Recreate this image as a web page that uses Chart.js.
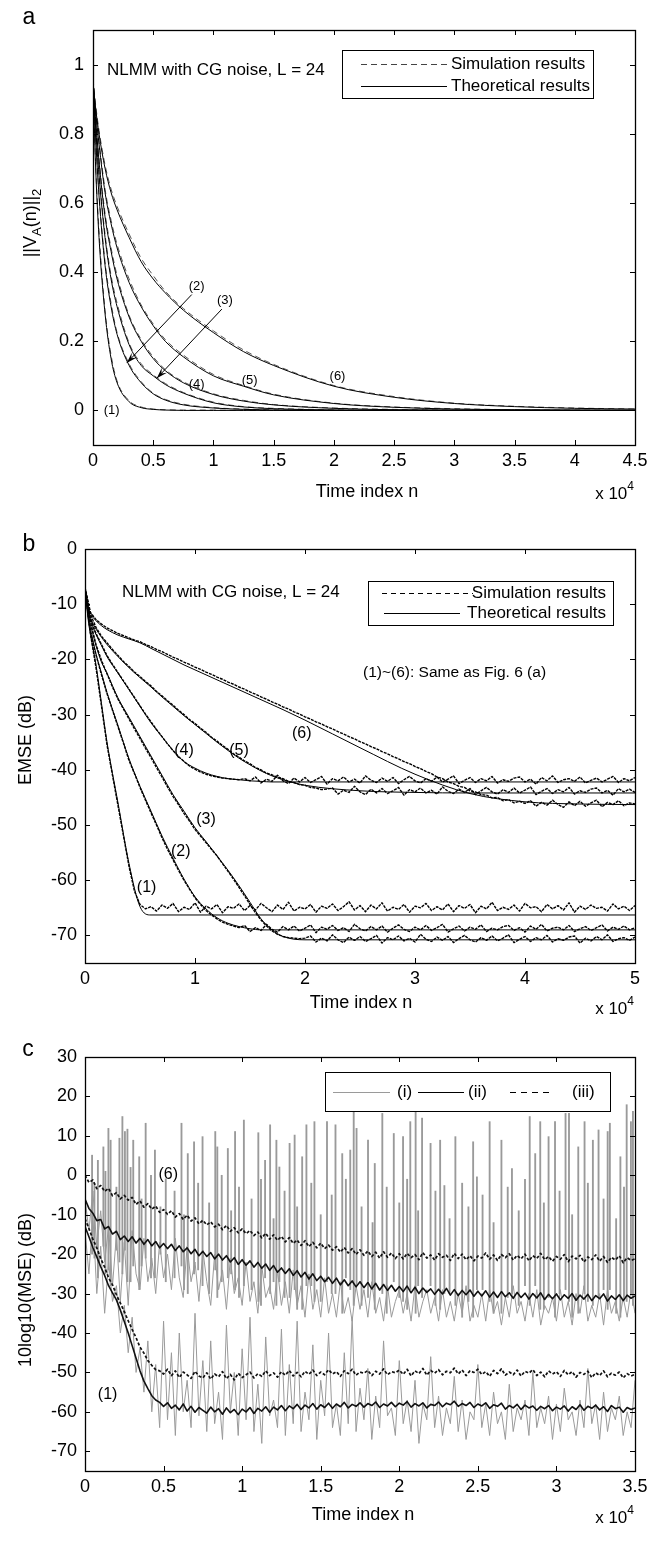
<!DOCTYPE html>
<html><head><meta charset="utf-8">
<script src="https://cdn.jsdelivr.net/npm/chart.js@4.4.1/dist/chart.umd.min.js"></script>
<style>
html,body{margin:0;padding:0;background:#fff;}
body{width:661px;height:1545px;position:relative;overflow:hidden;}
canvas{position:absolute;left:0;}
</style></head><body>
<canvas id="ca" width="661" height="515" style="top:0px"></canvas>
<canvas id="cb" width="661" height="515" style="top:515px"></canvas>
<canvas id="cc" width="661" height="515" style="top:1030px"></canvas>
<script>
// ---------------- Panel a data ----------------
const A_N = [0,0.02,0.05,0.1,0.15,0.2,0.3,0.4,0.5,0.6,0.75,1,1.25,1.5,2,2.5,3,3.5,4,4.5];
const A_T1 = [0.95,0.72,0.50,0.28,0.15,0.08,0.025,0.008,0.003,0.001,0,0,0,0,0,0,0,0,0,0];
const A_T2 = [0.95,0.80,0.62,0.42,0.30,0.22,0.13,0.08,0.048,0.03,0.016,0.007,0.003,0.001,0,0,0,0,0,0];
const A_T3 = [0.95,0.83,0.68,0.50,0.38,0.30,0.19,0.13,0.10,0.075,0.05,0.022,0.01,0.005,0.001,0,0,0,0,0];
const A_T4 = [0.95,0.85,0.72,0.56,0.46,0.38,0.27,0.20,0.15,0.115,0.08,0.046,0.027,0.016,0.006,0.002,0.001,0,0,0];
const A_T5 = [0.95,0.87,0.77,0.63,0.54,0.47,0.37,0.30,0.245,0.20,0.155,0.10,0.07,0.045,0.02,0.009,0.004,0.002,0.001,0];
const A_T6 = [0.95,0.88,0.80,0.70,0.63,0.58,0.50,0.43,0.38,0.34,0.29,0.225,0.17,0.13,0.07,0.038,0.02,0.011,0.006,0.004];
const A_S1 = [0.96,0.73,0.52,0.29,0.16,0.085,0.028,0.01,0.004,0.002,0.001,0.001,0,0,0,0,0,0,0,0];
const A_S2 = [0.96,0.81,0.63,0.43,0.31,0.225,0.135,0.083,0.05,0.032,0.018,0.008,0.004,0.002,0.001,0,0,0,0,0];
const A_S3 = [0.96,0.84,0.69,0.51,0.39,0.31,0.195,0.135,0.103,0.078,0.052,0.024,0.011,0.006,0.002,0.001,0,0,0,0];
const A_S4 = [0.96,0.86,0.73,0.57,0.47,0.39,0.275,0.205,0.155,0.118,0.083,0.048,0.029,0.017,0.007,0.003,0.001,0.001,0,0];
const A_S5 = [0.96,0.88,0.78,0.64,0.55,0.48,0.38,0.305,0.25,0.205,0.16,0.104,0.072,0.047,0.021,0.01,0.005,0.002,0.001,0.001];
const A_S6 = [0.96,0.89,0.81,0.71,0.64,0.59,0.51,0.44,0.39,0.345,0.295,0.23,0.175,0.133,0.072,0.04,0.021,0.012,0.007,0.004];
const A_XTICKS = [0,0.5,1,1.5,2,2.5,3,3.5,4,4.5];
const A_YTICKS = [0,0.2,0.4,0.6,0.8,1];

// ---------------- Panel b data ----------------
const B_N = [0,0.03,0.06,0.1,0.15,0.2,0.3,0.4,0.5,0.6,0.7,0.8,0.9,1,1.1,1.2,1.3,1.4,1.5,1.6,1.7,1.8,2,2.5,3,3.5,4,4.5,5];
const B_T1 = [-7,-13,-16.5,-21,-28,-35,-46,-57,-64.8,-66.3,-66.3,-66.3,-66.3,-66.3,-66.3,-66.3,-66.3,-66.3,-66.3,-66.3,-66.3,-66.3,-66.3,-66.3,-66.3,-66.3,-66.3,-66.3,-66.3];
const B_T2 = [-7,-12.5,-15.5,-19,-22.5,-26,-32,-38,-43,-47.5,-52,-56,-59.8,-63,-65.2,-66.8,-67.8,-68.4,-68.8,-69,-69,-69,-69,-69,-69,-69,-69,-69,-69];
const B_T3 = [-7,-12,-14.5,-17.5,-20.5,-22.5,-27,-30.5,-34,-37.5,-41,-44.5,-47.5,-50.5,-53,-55.6,-58.2,-61,-64,-67,-69,-70.2,-70.8,-70.8,-70.8,-70.8,-70.8,-70.8,-70.8];
const B_T4 = [-7,-11.5,-13.5,-15.5,-17.5,-19.5,-22.5,-25.5,-28.5,-31.5,-34,-36.5,-38.5,-39.7,-40.6,-41.2,-41.6,-41.8,-42,-42.1,-42.2,-42.2,-42.2,-42.2,-42.2,-42.2,-42.2,-42.2,-42.2];
const B_T5 = [-7,-11,-13,-14.5,-16,-17.3,-19.5,-21.5,-23.3,-25,-26.8,-28.5,-30.2,-31.8,-33.4,-35,-36.5,-37.9,-39.1,-40.2,-41.1,-41.8,-42.8,-43.8,-44.1,-44.2,-44.2,-44.2,-44.2];
const B_T6 = [-7,-10.5,-12,-13,-13.9,-14.6,-15.6,-16.3,-17,-18,-19,-20,-21,-21.9,-22.8,-23.7,-24.6,-25.5,-26.4,-27.3,-28.2,-29.1,-31,-36,-40.8,-44.3,-45.8,-46.2,-46.3];
const B_SN = [0,0.05,0.1,0.15,0.2,0.25,0.3,0.35,0.4,0.45,
0.5,0.55,0.6,0.65,0.7,0.75,0.8,0.85,0.9,0.95,
1,1.05,1.1,1.15,1.2,1.25,1.3,1.35,1.4,1.45,
1.5,1.55,1.6,1.65,1.7,1.75,1.8,1.85,1.9,1.95,
2,2.05,2.1,2.15,2.2,2.25,2.3,2.35,2.4,2.45,
2.5,2.55,2.6,2.65,2.7,2.75,2.8,2.85,2.9,2.95,
3,3.05,3.1,3.15,3.2,3.25,3.3,3.35,3.4,3.45,
3.5,3.55,3.6,3.65,3.7,3.75,3.8,3.85,3.9,3.95,
4,4.05,4.1,4.15,4.2,4.25,4.3,4.35,4.4,4.45,
4.5,4.55,4.6,4.65,4.7,4.75,4.8,4.85,4.9,4.95,5];
const B_S1 = [-7,-15.5,-21.5,-28.5,-35.5,-41,-46.5,-52,-57.5,-62,-64.4,-65.2,-64.8,
-65.6,-64.5,-65.1,-64.2,-65.7,-64.9,-65.3,-64.1,-65.8,-64.7,
-65.2,-64.4,-65.9,-64.8,-65.1,-64.3,-65.5,-64.6,-65.4,-64.2,
-65.0,-65.7,-64.5,-65.3,-64.0,-65.6,-64.9,-65.2,-64.4,-65.8,
-64.7,-65.1,-64.3,-65.5,-64.8,-63.9,-65.4,-64.6,-65.7,-64.5,
-65.2,-64.1,-65.6,-64.9,-65.3,-64.4,-65.8,-64.7,-65.0,-64.2,
-65.5,-64.8,-65.4,-64.3,-65.7,-64.6,-65.1,-64.4,-65.9,-64.7,
-65.2,-64.0,-65.5,-64.9,-65.3,-64.5,-65.6,-64.2,-65.0,-64.8,
-65.7,-64.4,-65.2,-64.6,-65.4,-64.1,-65.8,-64.7,-65.3,-64.5,
-65.1,-64.9,-65.6,-64.3,-65.2,-64.7,-65.5,-64.6];
const B_S2 = [-7,-15,-19.2,-22.8,-26.2,-29.2,-32.2,-35.2,-38.3,-40.7,-43.2,-45.5,-47.8,-50,-52.3,-54.4,-56.3,-58.2,-60,-61.6,-63.2,-64.4,-65.5,-66.3,-67,-67.6,-68,-68.3,-68.6,
-68.2,-69.3,-68.6,-69.1,-68.0,-68.9,-69.4,-68.4,-69.0,-68.3,
-69.2,-68.7,-68.1,-69.5,-68.5,-68.9,-68.2,-69.1,-68.6,-69.3,
-68.0,-68.8,-69.2,-68.4,-69.0,-68.3,-69.4,-68.7,-68.1,-68.9,
-69.3,-68.5,-69.0,-68.2,-69.1,-68.6,-68.0,-69.4,-68.8,-68.3,
-69.2,-68.5,-68.9,-68.1,-69.3,-68.7,-69.0,-68.4,-68.2,-69.1,
-68.6,-69.4,-68.3,-68.9,-68.0,-69.2,-68.7,-68.5,-69.0,-68.2,
-69.3,-68.8,-68.4,-69.1,-68.6,-68.1,-69.2,-68.5,-68.9,-68.3,
-69.0,-68.6];
const B_S3 = [-7,-13.2,-17.3,-20.2,-22.6,-25,-27.2,-29,-30.8,-32.6,
-34.3,-36.1,-37.8,-39.6,-41.3,-43.1,-44.8,-46.3,-47.9,-49.3,
-50.8,-52,-53.2,-54.4,-55.6,-57,-58.4,-59.8,-61.3,-62.8,
-64.4,-65.9,-67.2,-68.3,-69.2,-69.8,-70.2,-70.4,-70.5,-70.6,-70.5,
-70.1,-71.2,-70.5,-71.0,-69.9,-70.8,-71.3,-70.3,-70.9,-70.2,
-71.1,-70.6,-70.0,-71.4,-70.4,-70.8,-70.1,-71.0,-70.5,-71.2,
-69.8,-70.7,-71.1,-70.3,-70.9,-70.2,-71.3,-70.6,-70.0,-70.8,
-71.2,-70.4,-70.9,-70.1,-71.0,-70.5,-69.9,-71.3,-70.7,-70.2,
-71.1,-70.4,-70.8,-70.0,-71.2,-70.6,-70.9,-70.3,-70.1,-71.4,
-70.5,-71.0,-70.2,-70.8,-69.9,-71.1,-70.6,-70.4,-70.9,-70.3];
const B_S4 = [-7,-12.6,-15.3,-17.3,-19.3,-20.9,-22.4,-23.9,-25.4,-26.9,
-28.4,-29.9,-31.3,-32.7,-34,-35.3,-36.5,-37.6,-38.5,-39.3,
-39.9,-40.4,-40.8,-41.1,-41.3,-41.5,-41.6,-41.7,-41.8,-41.6,-42.0,
-41.3,-42.4,-41.7,-42.1,-41.0,-42.0,-42.5,-41.5,-42.2,-41.4,
-42.3,-41.8,-41.2,-42.6,-41.6,-42.0,-41.3,-42.2,-41.7,-42.4,
-41.1,-41.9,-42.3,-41.5,-42.1,-41.4,-42.5,-41.8,-41.2,-42.0,
-42.4,-41.6,-42.1,-41.3,-42.2,-41.7,-41.1,-42.5,-41.9,-41.4,
-42.3,-41.6,-42.0,-41.2,-42.4,-41.8,-42.1,-41.5,-41.3,-42.2,
-41.7,-42.6,-41.4,-42.0,-41.1,-42.3,-41.8,-41.6,-42.1,-41.3,
-42.4,-41.9,-41.5,-42.2,-41.7,-41.2,-42.3,-41.6,-42.0,-41.4];
const B_S5 = [-7,-11.9,-14.2,-15.8,-17,-18.2,-19.3,-20.4,-21.3,-22.3,
-23.1,-24,-24.8,-25.8,-26.6,-27.5,-28.3,-29.2,-30,-30.9,
-31.6,-32.5,-33.2,-34.1,-34.8,-35.6,-36.3,-37.1,-37.7,-38.4,
-38.9,-39.6,-40,-40.6,-40.9,-41.4,-41.6,-42.1,-42.3,-42.7,
-42.8,-43.2,-43.3,-43.6,-43.5,
-43.3,-44.4,-43.7,-44.1,-43.0,-44.0,-44.5,-43.5,-44.2,-43.4,
-44.3,-43.8,-43.2,-44.6,-43.6,-44.0,-43.3,-44.2,-43.7,-44.4,
-43.1,-43.9,-44.3,-43.5,-44.1,-43.4,-44.5,-43.8,-43.2,-44.0,
-44.4,-43.6,-44.1,-43.3,-44.2,-43.7,-43.1,-44.5,-43.9,-43.4,
-44.3,-43.6,-44.0,-43.2,-44.4,-43.8,-44.1,-43.5,-43.3,-44.2,
-43.7,-44.6,-43.4,-44.0,-43.5,-44.1];
const B_S6 = [-7,-11.5,-12.8,-13.6,-14.3,-14.8,-15.3,-15.7,-16.1,-16.5,
-16.8,-17.3,-17.7,-18.2,-18.6,-19.1,-19.6,-20.0,-20.5,-20.9,
-21.4,-21.8,-22.3,-22.7,-23.2,-23.6,-24.1,-24.5,-25.0,-25.4,
-25.9,-26.3,-26.8,-27.2,-27.7,-28.1,-28.6,-29.0,-29.5,-29.9,
-30.4,-30.8,-31.3,-31.7,-32.2,-32.6,-33.1,-33.5,-34.0,-34.4,
-34.9,-35.3,-35.8,-36.2,-36.7,-37.1,-37.6,-38.0,-38.5,-38.9,
-39.4,-39.8,-40.3,-40.7,-41.3,-41.6,-42.2,-42.5,-43.0,-43.2,
-43.8,-44.0,-44.5,-44.6,-45.1,-45.0,-45.6,-45.4,-46.0,-45.7,
-46.1,
-45.6,-46.6,-45.9,-46.4,-45.5,-46.3,-46.8,-45.8,-46.5,-45.7,
-46.6,-46.0,-45.5,-46.7,-45.9,-46.3,-45.6,-46.5,-46.0,-46.2];
const B_XTICKS = [0,1,2,3,4,5];
const B_YTICKS = [0,-10,-20,-30,-40,-50,-60,-70];

// ---------------- Panel c data ----------------
const C_N = [0,0.025,0.05,0.075,0.1,0.125,0.15,0.175,0.2,0.225,
0.25,0.275,0.3,0.325,0.35,0.375,0.4,0.425,0.45,0.475,
0.5,0.525,0.55,0.575,0.6,0.625,0.65,0.675,0.7,0.725,
0.75,0.775,0.8,0.825,0.85,0.875,0.9,0.925,0.95,0.975,
1,1.025,1.05,1.075,1.1,1.125,1.15,1.175,1.2,1.225,
1.25,1.275,1.3,1.325,1.35,1.375,1.4,1.425,1.45,1.475,
1.5,1.525,1.55,1.575,1.6,1.625,1.65,1.675,1.7,1.725,
1.75,1.775,1.8,1.825,1.85,1.875,1.9,1.925,1.95,1.975,
2,2.025,2.05,2.075,2.1,2.125,2.15,2.175,2.2,2.225,
2.25,2.275,2.3,2.325,2.35,2.375,2.4,2.425,2.45,2.475,
2.5,2.525,2.55,2.575,2.6,2.625,2.65,2.675,2.7,2.725,
2.75,2.775,2.8,2.825,2.85,2.875,2.9,2.925,2.95,2.975,
3,3.025,3.05,3.075,3.1,3.125,3.15,3.175,3.2,3.225,
3.25,3.275,3.3,3.325,3.35,3.375,3.4,3.425,3.45,3.475,3.5];
// (iii) case (6)
const C_K1 = [0,-1.8,-1.2,-3.4,-2.6,-4.1,-3.3,-5.2,-4.4,-6.0,-5.1,
-6.3,-5.6,-7.4,-6.5,-8.1,-7.2,-8.6,-7.8,-9.4,-8.7,
-9.9,-9.0,-10.6,-9.7,-11.2,-10.1,-11.6,-10.8,-12.3,-11.4,
-12.6,-11.8,-13.1,-12.4,-13.8,-12.7,-14.2,-13.3,-14.6,-13.6,
-14.8,-14.0,-15.3,-14.4,-15.9,-14.7,-16.2,-15.1,-16.5,-15.5,
-16.9,-15.8,-17.3,-16.4,-17.8,-16.6,-18.1,-17.0,-18.4,-17.2,
-18.6,-17.7,-19.0,-18.1,-19.5,-18.3,-19.7,-18.6,-20.1,-18.9,
-20.3,-19.2,-20.6,-19.5,-21.0,-19.4,-20.8,-19.7,-21.1,-19.9,
-21.2,-19.8,-20.9,-20.1,-21.4,-19.6,-21.0,-20.2,-21.5,-19.9,
-20.8,-20.3,-21.6,-19.8,-21.1,-20.0,-21.4,-20.4,-21.7,-20.5,
-21.0,-19.7,-21.3,-20.2,-21.6,-20.1,-20.9,-19.9,-21.5,-20.3,
-21.2,-20.0,-21.7,-20.4,-21.1,-19.8,-21.4,-20.6,-21.8,-20.6,
-21.3,-20.1,-21.9,-20.5,-21.2,-20.3,-22.0,-20.7,-21.4,-20.2,
-21.8,-20.6,-22.1,-20.8,-21.5,-20.4,-22.2,-20.9,-21.6,-21.2];
// (ii) case (6)
const C_K2 = [-6.0,-8.4,-9.6,-11.5,-11.2,-13.6,-13.0,-14.9,-14.2,-16.3,-15.4,
-16.8,-15.6,-17.2,-16.0,-17.5,-16.3,-17.9,-16.8,-18.4,-17.3,
-18.6,-17.5,-19.1,-17.9,-19.4,-18.4,-19.9,-18.8,-20.4,-19.3,
-20.6,-19.6,-21.2,-20.0,-21.5,-20.4,-22.0,-20.9,-22.6,-21.4,
-22.8,-21.7,-23.3,-22.1,-23.6,-22.5,-24.1,-22.9,-24.6,-23.5,
-24.9,-23.7,-25.4,-24.2,-25.8,-24.6,-26.3,-25.0,-26.7,-25.6,
-27.0,-25.9,-27.4,-26.1,-27.8,-26.5,-28.0,-26.8,-28.3,-27.0,
-28.5,-27.2,-28.8,-27.4,-29.1,-27.7,-29.2,-27.9,-29.4,-28.2,
-29.5,-28.1,-29.8,-28.4,-30.0,-28.6,-29.7,-28.8,-30.2,-28.9,
-30.1,-28.7,-30.4,-29.0,-30.5,-29.2,-30.3,-29.1,-30.7,-29.4,
-30.6,-29.3,-30.9,-29.6,-31.0,-29.5,-30.8,-29.8,-31.2,-29.7,
-31.0,-29.9,-31.4,-30.0,-31.1,-29.8,-31.5,-30.2,-31.3,-30.1,
-31.6,-30.3,-31.2,-30.0,-31.7,-30.4,-31.4,-30.2,-31.8,-30.5,
-31.3,-30.1,-31.9,-30.6,-31.5,-30.3,-31.8,-30.4,-31.2,-30.6];
// (iii) case (1)
const C_K3 = [-11.0,-13.5,-16.2,-18.4,-21.1,-23.3,-26.0,-27.8,-30.3,-32.4,-34.6,-36.9,-39.1,-41.2,-43.6,-45.1,-47.0,-48.2,-49.3,-49.6,-50.4,
-49.2,-50.8,-49.6,-51.3,-49.9,-50.6,-51.5,-49.7,-50.9,-51.4,
-50.1,-51.7,-50.4,-51.1,-49.8,-51.6,-50.5,-51.9,-50.2,-51.3,
-50.6,-49.9,-51.4,-50.3,-51.0,-49.6,-50.8,-50.1,-51.2,-49.8,
-50.7,-49.5,-50.9,-50.0,-51.1,-49.7,-50.5,-49.4,-50.8,-49.9,
-50.6,-49.3,-50.4,-49.8,-51.0,-49.6,-50.3,-49.2,-50.7,-49.9,
-50.2,-49.5,-50.8,-49.7,-50.4,-49.1,-50.6,-49.8,-50.1,-49.4,
-50.5,-49.2,-50.9,-49.6,-50.3,-49.0,-50.7,-49.5,-50.2,-49.3,
-50.6,-49.7,-50.1,-48.9,-50.4,-49.4,-50.8,-49.6,-50.0,-49.2,
-50.5,-49.8,-51.0,-49.5,-50.3,-49.1,-50.7,-49.9,-50.6,-49.4,
-50.9,-49.7,-50.2,-49.3,-50.8,-49.9,-51.1,-49.6,-50.4,-49.8,
-51.0,-49.5,-50.6,-49.8,-51.2,-50.0,-50.5,-49.7,-51.3,-50.1,
-50.8,-49.6,-51.1,-50.2,-50.7,-49.9,-51.4,-50.3,-50.9,-50.5];
// (ii) case (1)
const C_K4 = [-13.0,-15.6,-18.3,-20.7,-23.2,-25.4,-28.0,-29.8,-31.6,-34.2,-37.1,-40.0,-43.2,-46.4,-49.6,-52.2,-54.1,-55.9,-57.0,-57.6,-58.6,
-57.7,-59.1,-58.3,-59.5,-58.0,-59.8,-58.6,-60.1,-58.9,-59.6,
-60.3,-58.8,-60.0,-59.2,-60.6,-59.0,-60.2,-59.4,-60.7,-59.3,
-60.0,-58.9,-60.4,-59.1,-59.8,-58.7,-60.1,-58.8,-59.5,-58.4,
-59.7,-58.5,-59.2,-58.1,-59.4,-58.3,-59.0,-57.9,-59.3,-58.2,
-58.9,-57.8,-59.1,-58.0,-58.7,-57.6,-59.0,-58.1,-58.6,-57.7,
-58.8,-57.9,-58.4,-57.5,-58.9,-58.0,-58.5,-57.6,-58.7,-57.8,
-58.3,-57.4,-58.8,-57.9,-58.5,-57.7,-59.0,-58.1,-58.4,-57.5,
-58.7,-57.8,-58.2,-57.3,-58.6,-57.9,-58.4,-57.6,-58.9,-58.0,
-58.5,-57.7,-59.1,-58.2,-58.6,-57.8,-59.3,-58.4,-59.0,-58.1,
-59.4,-58.3,-59.0,-58.5,-59.6,-58.6,-59.2,-58.4,-59.7,-58.8,
-59.3,-58.5,-59.8,-58.7,-59.4,-58.2,-59.6,-58.6,-59.1,-58.3,
-59.5,-58.7,-59.9,-58.4,-59.2,-58.8,-60.1,-58.9,-59.4,-59.0];
// (i) case (6): noisy band
const C_GU = [-6,-14,-4,-18,-9,-22,-13,-28,-15,-32,-17,
-33,-14,-25,-29,-16,-27,-21,-30,-17,-26,
-20,-29,-16,-26,-31,-18,-27,-22,-32,-19,
-27,-33,-20,-29,-24,-34,-21,-30,-26,-33,
-22,-32,-27,-35,-23,-31,-28,-34,-24,-33,
-27,-35,-24,-33,-28,-36,-25,-34,-29,-36,
-26,-35,-30,-36,-27,-35,-31,-37,-28,-34,
-29,-36,-27,-35,-31,-37,-28,-36,-32,-29,
-35,-30,-37,-28,-36,-32,-29,-35,-31,-37,
-29,-36,-32,-37,-30,-35,-28,-37,-33,-36,
-30,-37,-29,-35,-32,-38,-31,-36,-28,-35,
-32,-37,-30,-36,-29,-38,-33,-35,-31,-37,
-29,-36,-32,-38,-30,-35,-28,-37,-33,-36,
-30,-38,-29,-35,-32,-37,-31,-36,-29,-35];
// (i) case (6): impulsive spikes (position, foot, peak)
const C_SPK_N = [0.045,0.082,0.117,0.149,0.163,0.219,0.238,0.254,0.27,0.307,0.345,0.386,0.445,0.514,0.614,0.654,0.694,0.748,0.829,0.842,
0.909,0.955,1.011,1.103,1.146,1.178,1.218,1.237,1.302,1.334,1.382,1.409,1.46,1.54,1.594,1.637,1.688,1.71,1.728,1.801,
1.844,1.892,1.965,2.024,2.07,2.104,2.145,2.199,2.26,2.287,2.357,2.47,2.494,2.575,2.65,2.717,2.83,2.865,2.897,2.95,
2.991,3.058,3.08,3.139,3.179,3.232,3.268,3.326,3.34,3.407,3.447,3.474,3.487];
const C_SPK_FOOT = [-20,-26,-18,-24,-28,-22,-25,-19,-27,-23,-29,-21,-26,
-27,-23,-30,-25,-28,-24,-31,-26,-29,
-28,-32,-26,-30,-33,-27,-31,-29,-34,-28,-32,-27,-30,-35,-29,-33,-28,-31,-34,-30,-27,
-32,-29,-35,-31,-28,-34,-30,-33,-36,-29,-32,-35,-30,-33,-28,-34,-31,-36,-29,-32,-35,-30,-33,-31,-34,-29,-36,-32,-30,-33];
const C_SPK_TOP = [5.1,3.8,7.2,11.9,8.9,9.4,14.9,11.1,11.7,8.9,4.7,13.2,6.4,-0.9,13.2,5.5,8.5,9.8,11.1,7.2,
6.8,11.1,14,10.8,3.8,12.8,8.9,2.1,8.1,10.2,4.7,12.8,13.6,13.6,12.8,5.5,6.4,17,11.9,8.9,
3,15.7,10.6,9.8,13.6,17,14.5,8.1,8.9,-2.6,9.8,8.5,-0.4,13.6,8.9,1.7,14.9,5.5,13.6,9.8,
13.6,15.7,15.7,7.2,13.6,8.9,11.5,11.1,13.2,4.7,17.9,13.6,16.2];
const C_SP2_N = [0.06,0.13,0.2,0.29,0.36,0.42,0.48,0.57,0.63,0.72,0.79,0.87,0.93,0.98,1.06,1.12,1.2,1.27,1.35,1.44,1.5,1.57,1.66,
1.76,1.83,1.92,2.0,2.05,2.12,2.23,2.32,2.4,2.44,2.53,2.6,2.69,2.76,2.8,2.92,3.02,3.1,3.2,3.3,3.38,3.43];
const C_SP2_FOOT = [-21,-25,-19,-27,-23,-26,-20,
-26,-29,-24,-30,-27,-25,-31,
-29,-33,-27,-31,-34,-28,-32,-30,-26,-33,-29,-35,
-31,-34,-28,-33,-30,-36,-32,-29,-35,-31,-33,-28,-34,-30,-36,-32,-29,-35,-31];
const C_SP2_TOP = [-2,1,-3,2,-6,0,-8,-4,-10,-2,-7,0,-9,-3,-6,-1,-11,-4,-8,-2,-10,-5,-1,
-8,-12,-3,-7,-1,-9,-4,-11,-2,-8,-5,-12,-3,-9,-1,-7,-4,-10,-2,-6,-11,-3];
// (i) case (1): noisy band
const C_GL = [-14,-25,-10,-30,-18,-35,-22,-32,-28,-40,-33,-45,-36,-50,-44,
-55,-42,-60,-48,-64,-37,
-62,-45,-66,-40,-60,-52,-64,-35,-61,-47,
-65,-42,-63,-55,-67,-38,-60,-50,-66,-44,
-62,-36,-65,-53,-68,-41,-61,-57,-64,-39,
-66,-48,-63,-37,-65,-55,-62,-43,-67,-52,
-61,-40,-64,-58,-66,-45,-63,-36,-65,-54,
-62,-49,-67,-56,-64,-42,-61,-59,-66,-47,
-63,-57,-65,-52,-68,-58,-62,-46,-64,-56,
-66,-59,-63,-51,-65,-57,-67,-60,-62,-48,
-64,-58,-66,-55,-63,-60,-67,-53,-65,-59,
-62,-57,-66,-50,-64,-59,-63,-56,-67,-58,
-65,-54,-62,-60,-66,-57,-64,-49,-63,-58,
-67,-55,-65,-59,-62,-56,-66,-60,-64,-52];
const C_XTICKS = [0,0.5,1,1.5,2,2.5,3,3.5];
const C_YTICKS = [30,20,10,0,-10,-20,-30,-40,-50,-60,-70];

// ---------------- helpers ----------------
const FONT = "'Liberation Sans', Arial, Helvetica, sans-serif";
const TL = 5;
const pts = (xs, ys) => xs.map((x, i) => ({x: x, y: ys[i]}));
const bars = (xs, feet, tops) => xs.map((x, i) => ({x: x, y: [feet[i], tops[i]]}));

function drawRich(ctx, pieces, cx, cy, size, rot, align) {
  ctx.save();
  ctx.translate(cx, cy);
  ctx.rotate(rot || 0);
  let w = 0;
  const ws = pieces.map(p => {
    ctx.font = (p.sub || p.sup ? Math.round(size * 0.7) : size) + 'px ' + FONT;
    const m = ctx.measureText(p.t).width; w += m; return m;
  });
  let xx = align === 'right' ? -w : (align === 'left' ? 0 : -w / 2);
  ctx.textAlign = 'left'; ctx.textBaseline = 'middle';
  pieces.forEach((p, i) => {
    ctx.font = (p.sub || p.sup ? Math.round(size * 0.7) : size) + 'px ' + FONT;
    const dy = p.sub ? size * 0.38 : (p.sup ? -size * 0.45 : 0);
    ctx.fillText(p.t, xx, dy);
    xx += ws[i];
  });
  ctx.restore();
}

const decor = {
  id: 'decor',
  afterDatasetsDraw(chart, _args, o) {
    const ctx = chart.ctx, ca = chart.chartArea;
    const xs = chart.scales.x, ys = chart.scales.y;
    const px = v => xs.getPixelForValue(v), py = v => ys.getPixelForValue(v);
    ctx.save();
    ctx.setLineDash([]);
    ctx.strokeStyle = '#000'; ctx.fillStyle = '#000';
    ctx.lineWidth = 1;
    ctx.beginPath();
    xs.ticks.forEach(t => {
      const X = Math.round(px(t.value)) + 0.5;
      ctx.moveTo(X, ca.bottom); ctx.lineTo(X, ca.bottom - TL);
      ctx.moveTo(X, ca.top); ctx.lineTo(X, ca.top + TL);
    });
    ys.ticks.forEach(t => {
      const Y = Math.round(py(t.value)) + 0.5;
      ctx.moveTo(ca.left, Y); ctx.lineTo(ca.left + TL, Y);
      ctx.moveTo(ca.right, Y); ctx.lineTo(ca.right - TL, Y);
    });
    ctx.stroke();
    ctx.lineWidth = 1.3;
    ctx.strokeRect(Math.round(ca.left) + 0.5, Math.round(ca.top) + 0.5, Math.round(ca.right - ca.left), Math.round(ca.bottom - ca.top));
    (o.arrows || []).forEach(a => {
      const x1 = px(a.from[0]), y1 = py(a.from[1]), x2 = px(a.to[0]), y2 = py(a.to[1]);
      const ang = Math.atan2(y2 - y1, x2 - x1);
      ctx.lineWidth = 1;
      ctx.beginPath(); ctx.moveTo(x1, y1); ctx.lineTo(x2, y2); ctx.stroke();
      const L = 11, W = 3.5;
      ctx.beginPath();
      ctx.moveTo(x2, y2);
      ctx.lineTo(x2 - L * Math.cos(ang) + W * Math.sin(ang), y2 - L * Math.sin(ang) - W * Math.cos(ang));
      ctx.lineTo(x2 - 0.6 * L * Math.cos(ang), y2 - 0.6 * L * Math.sin(ang));
      ctx.lineTo(x2 - L * Math.cos(ang) - W * Math.sin(ang), y2 - L * Math.sin(ang) + W * Math.cos(ang));
      ctx.closePath(); ctx.fill();
    });
    if (o.legend) {
      const b = o.legend.box;
      ctx.fillStyle = '#fff';
      ctx.fillRect(b[0], b[1], b[2] - b[0], b[3] - b[1]);
      ctx.lineWidth = 1; ctx.strokeStyle = '#000';
      ctx.strokeRect(b[0] + 0.5, b[1] + 0.5, b[2] - b[0], b[3] - b[1]);
      o.legend.items.forEach(it => {
        ctx.strokeStyle = it.color; ctx.lineWidth = it.width || 1;
        ctx.setLineDash(it.dash || []);
        ctx.beginPath(); ctx.moveTo(it.x1, it.y + 0.5); ctx.lineTo(it.x2, it.y + 0.5); ctx.stroke();
        ctx.setLineDash([]);
        ctx.fillStyle = '#000';
        ctx.font = (it.size || 17) + 'px ' + FONT;
        ctx.textAlign = it.talign || 'left'; ctx.textBaseline = 'middle';
        ctx.fillText(it.text, it.tx, it.y);
      });
    }
    ctx.fillStyle = '#000';
    (o.texts || []).forEach(t => {
      ctx.font = (t.size || 17) + 'px ' + FONT;
      ctx.textAlign = t.align || 'center'; ctx.textBaseline = 'middle';
      const X = t.data ? px(t.x) : t.x, Y = t.data ? py(t.y) : t.y;
      ctx.fillText(t.t, X, Y);
    });
    if (o.xtitle) drawRich(ctx, [{t: o.xtitle.t}], o.xtitle.x, o.xtitle.y, 18, 0);
    if (o.exp) drawRich(ctx, [{t: 'x 10'}, {t: '4', sup: true}], o.exp.x, o.exp.y, 17, 0, 'right');
    if (o.ytitle) drawRich(ctx, o.ytitle.pieces, o.ytitle.x, o.ytitle.y, 18, -Math.PI / 2);
    if (o.letter) drawRich(ctx, [{t: o.letter.t}], o.letter.x, o.letter.y, 23, 0);
    ctx.restore();
  }
};

function xScale(min, max, ticks, h) {
  return {
    type: 'linear', position: 'bottom', min: min, max: max, offset: false,
    afterFit: s => { s.height = h; },
    afterBuildTicks: s => { s.ticks = ticks.map(v => ({value: v})); },
    grid: {display: false, drawTicks: false, offset: false}, border: {display: false},
    ticks: {color: '#000', font: {family: FONT, size: 18}, padding: 5, autoSkip: false, maxRotation: 0, minRotation: 0, callback: v => String(v)}
  };
}
function yScale(min, max, ticks, w, pad) {
  return {
    type: 'linear', position: 'left', min: min, max: max,
    afterFit: s => { s.width = w; },
    afterBuildTicks: s => { s.ticks = ticks.map(v => ({value: v})); },
    grid: {display: false, drawTicks: false}, border: {display: false},
    ticks: {color: '#000', font: {family: FONT, size: 18}, padding: pad, autoSkip: false, callback: v => String(v)}
  };
}
function baseOpts(pad, xs, ys, deco) {
  return {
    responsive: false, animation: false, devicePixelRatio: 1, events: [],
    layout: {padding: pad},
    scales: {x: xs, y: ys},
    elements: {point: {radius: 0}, line: {borderJoinStyle: 'round'}},
    plugins: {legend: {display: false}, tooltip: {enabled: false}, decor: deco}
  };
}
function line(data, color, width, dash, extra) {
  return Object.assign({type: 'line', data: data, borderColor: color, borderWidth: width, borderDash: dash || [], fill: false, pointRadius: 0, tension: 0}, extra || {});
}

// ---------------- Panel a ----------------
const smooth = {cubicInterpolationMode: 'monotone'};
const aSets = [];
[A_T1, A_T2, A_T3, A_T4, A_T5, A_T6].forEach(t => aSets.push(line(pts(A_N, t), '#000', 1, [], smooth)));
[A_S1, A_S2, A_S3, A_S4, A_S5, A_S6].forEach(s => aSets.push(line(pts(A_N, s), '#555', 1, [6, 4], smooth)));
new Chart(document.getElementById('ca'), {
  type: 'line', data: {datasets: aSets}, plugins: [decor],
  options: baseOpts({left: 0, right: 26, top: 30, bottom: 0},
    xScale(0, 4.5, A_XTICKS, 70), yScale(-0.1, 1.1, A_YTICKS, 93, 9), {
      letter: {t: 'a', x: 29, y: 18},
      xtitle: {t: 'Time index n', x: 367, y: 492},
      exp: {x: 634, y: 494},
      ytitle: {x: 31, y: 223, pieces: [{t: '||V'}, {t: 'A', sub: true}, {t: '(n)||'}, {t: '2', sub: true}]},
      legend: {box: [342, 50, 593, 98], items: [
        {x1: 361, x2: 447, y: 64, color: '#444', dash: [6, 4], text: 'Simulation results', tx: 451},
        {x1: 361, x2: 447, y: 86, color: '#000', dash: [], text: 'Theoretical results', tx: 451}
      ]},
      texts: [
        {t: 'NLMM with CG noise, L = 24', x: 107, y: 70, align: 'left', size: 17},
        {t: '(1)', x: 0.155, y: 0.0, data: true, size: 13},
        {t: '(2)', x: 0.86, y: 0.358, data: true, size: 13},
        {t: '(3)', x: 1.095, y: 0.319, data: true, size: 13},
        {t: '(4)', x: 0.86, y: 0.076, data: true, size: 13},
        {t: '(5)', x: 1.30, y: 0.086, data: true, size: 13},
        {t: '(6)', x: 2.03, y: 0.097, data: true, size: 13}
      ],
      arrows: [{from: [0.82, 0.335], to: [0.28, 0.137]}, {from: [1.07, 0.293], to: [0.53, 0.093]}]
    })
});

// ---------------- Panel b ----------------
const bSets = [];
[B_S1, B_S2, B_S3, B_S4, B_S5, B_S6].forEach(s => bSets.push(line(pts(B_SN, s), '#000', 1.4, [3, 1])));
[B_T1, B_T2, B_T3, B_T4, B_T5, B_T6].forEach(t => bSets.push(line(pts(B_N, t), '#000', 1, [], smooth)));
new Chart(document.getElementById('cb'), {
  type: 'line', data: {datasets: bSets}, plugins: [decor],
  options: baseOpts({left: 0, right: 26, top: 34, bottom: 0},
    xScale(0, 5, B_XTICKS, 67), yScale(-75, 0, B_YTICKS, 85, 8), {
      letter: {t: 'b', x: 29, y: 30},
      xtitle: {t: 'Time index n', x: 361, y: 488},
      exp: {x: 634, y: 494},
      ytitle: {x: 26, y: 225, pieces: [{t: 'EMSE (dB)'}]},
      legend: {box: [368, 66, 613, 110], items: [
        {x1: 382, x2: 473, y: 78, color: '#000', dash: [5, 4], text: 'Simulation results', tx: 606, talign: 'right'},
        {x1: 384, x2: 460, y: 98, color: '#000', dash: [], text: 'Theoretical results', tx: 606, talign: 'right'}
      ]},
      texts: [
        {t: 'NLMM with CG noise, L = 24', x: 122, y: 77, align: 'left', size: 17},
        {t: '(1)~(6): Same as Fig. 6 (a)', x: 363, y: 158, align: 'left', size: 15.5},
        {t: '(1)', x: 0.56, y: -61.4, data: true, size: 16},
        {t: '(2)', x: 0.87, y: -54.8, data: true, size: 16},
        {t: '(3)', x: 1.1, y: -49, data: true, size: 16},
        {t: '(4)', x: 0.9, y: -36.5, data: true, size: 16},
        {t: '(5)', x: 1.4, y: -36.5, data: true, size: 16},
        {t: '(6)', x: 1.97, y: -33.5, data: true, size: 16}
      ]
    })
});

// ---------------- Panel c ----------------
const GRAY = '#9a9a9a';
const cSets = [
  line(pts(C_N, C_K1), '#111', 1.7, [3, 2], {order: 1}),
  line(pts(C_N, C_K2), '#111', 1.6, [], {order: 1}),
  line(pts(C_N, C_K3), '#111', 1.7, [3, 2], {order: 1}),
  line(pts(C_N, C_K4), '#111', 1.6, [], {order: 1}),
  line(pts(C_N, C_GU), GRAY, 1, [], {order: 2}),
  line(pts(C_N, C_GL), GRAY, 1, [], {order: 2}),
  {type: 'bar', data: bars(C_SPK_N, C_SPK_FOOT, C_SPK_TOP), backgroundColor: GRAY, borderWidth: 0, barThickness: 1.2, grouped: false, order: 3},
  {type: 'bar', data: bars(C_SP2_N, C_SP2_FOOT, C_SP2_TOP), backgroundColor: GRAY, borderWidth: 0, barThickness: 1.2, grouped: false, order: 3}
];
new Chart(document.getElementById('cc'), {
  type: 'line', data: {datasets: cSets}, plugins: [decor],
  options: baseOpts({left: 0, right: 26, top: 27, bottom: 0},
    xScale(0, 3.5, C_XTICKS, 74), yScale(-75, 30, C_YTICKS, 85, 8), {
      letter: {t: 'c', x: 28, y: 20},
      xtitle: {t: 'Time index n', x: 363, y: 485},
      exp: {x: 634, y: 488},
      ytitle: {x: 26, y: 260, pieces: [{t: '10log10(MSE) (dB)'}]},
      legend: {box: [325, 42, 610, 81], items: [
        {x1: 333, x2: 390, y: 62, color: GRAY, dash: [], text: '(i)', tx: 397},
        {x1: 418, x2: 464, y: 62, color: '#000', dash: [], text: '(ii)', tx: 468},
        {x1: 510, x2: 553, y: 62, color: '#000', dash: [6, 5], text: '(iii)', tx: 572}
      ]},
      texts: [
        {t: '(6)', x: 0.53, y: 0.3, data: true, size: 16},
        {t: '(1)', x: 0.144, y: -55.7, data: true, size: 16}
      ]
    })
});
</script>
</body></html>
